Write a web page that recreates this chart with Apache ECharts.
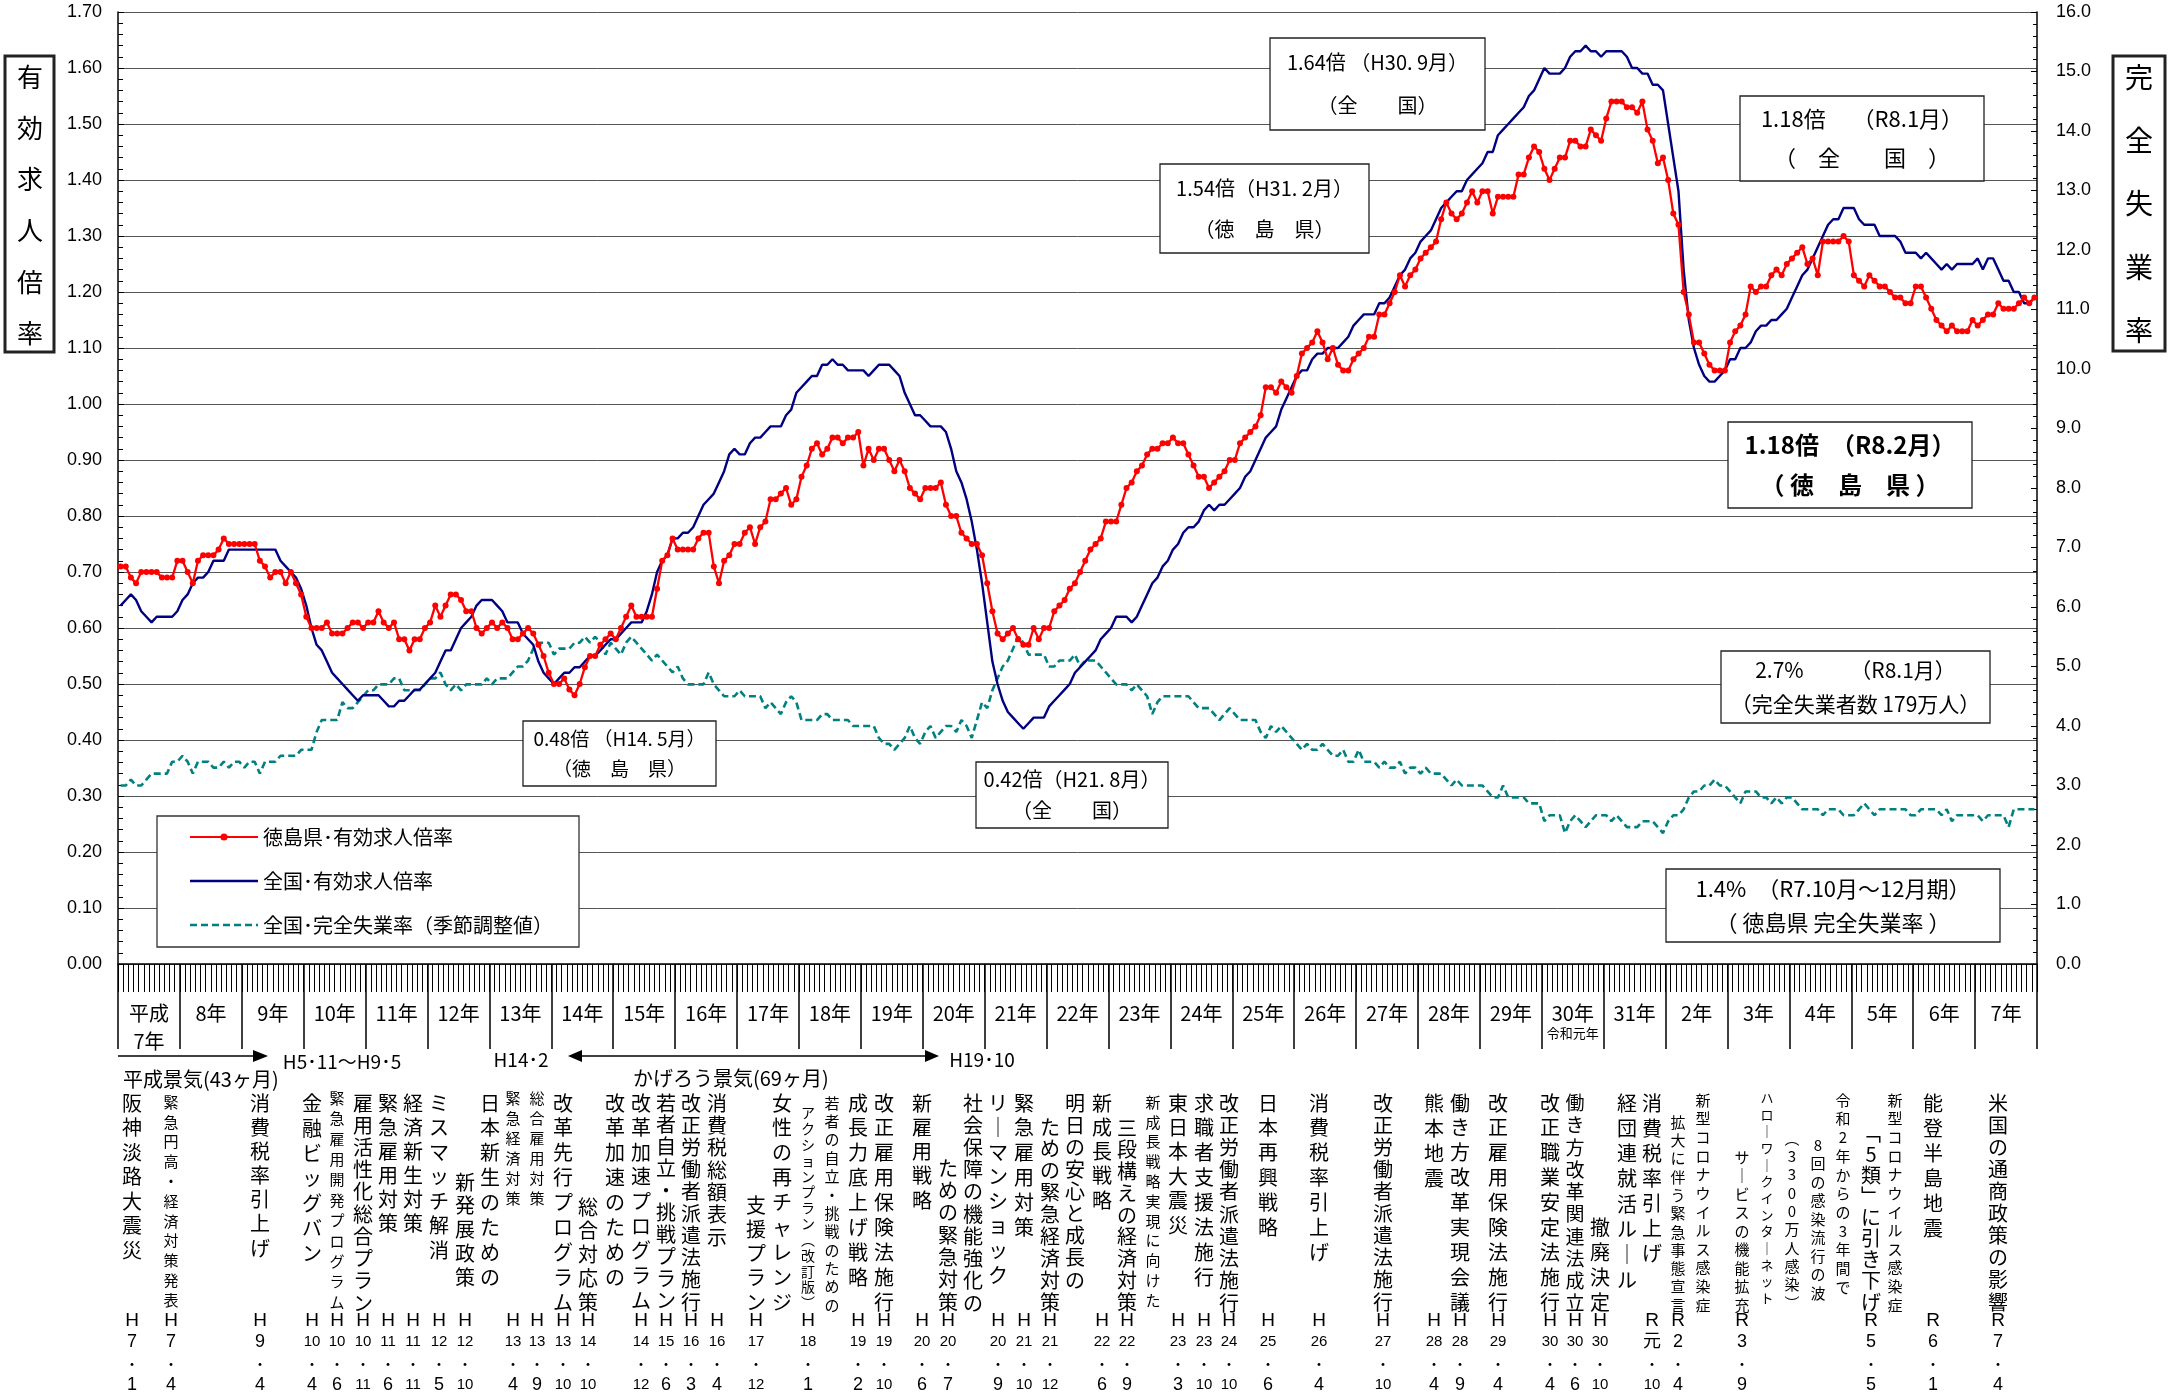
<!DOCTYPE html>
<html>
<head>
<meta charset="utf-8">
<script src="https://cdn.jsdelivr.net/npm/echarts@6/dist/echarts.min.js"></script>
<style>
html,body{margin:0;padding:0;background:#fff}
#main{width:2179px;height:1396px}
</style>
</head>
<body>
<div id="main"></div>
<script>
// 有効求人倍率・完全失業率の推移
var JP = '"Noto Sans CJK JP", "Noto Sans", sans-serif';
var LAT = '"Liberation Sans", Arial, "Noto Sans CJK JP", sans-serif';

// 年（横軸の区切り）
var yearTags = ['H7','H8','H9','H10','H11','H12','H13','H14','H15','H16','H17','H18','H19','H20','H21','H22',
  'H23','H24','H25','H26','H27','H28','H29','H30','H31','R2','R3','R4','R5','R6','R7'];
var yearLabels = ['平成\n7年','8年','9年','10年','11年','12年','13年','14年','15年','16年','17年','18年','19年','20年',
  '21年','22年','23年','24年','25年','26年','27年','28年','29年','30年\n{s|令和元年}','31年','2年','3年','4年','5年','6年','7年'];
var months = [];
yearTags.forEach(function (t) { for (var m = 1; m <= 12; m++) months.push(t + '.' + m); });

// 徳島県・有効求人倍率（1年12か月ずつ）
var tokushima = [
  0.71,0.71,0.69,0.68,0.70,0.70,0.70,0.70,0.69,0.69,0.69,0.72,
  0.72,0.70,0.68,0.72,0.73,0.73,0.73,0.74,0.76,0.75,0.75,0.75,
  0.75,0.75,0.75,0.72,0.71,0.69,0.70,0.70,0.68,0.70,0.68,0.66,
  0.62,0.60,0.60,0.60,0.61,0.59,0.59,0.59,0.60,0.61,0.61,0.60,
  0.61,0.61,0.63,0.61,0.60,0.61,0.58,0.58,0.56,0.58,0.58,0.60,
  0.61,0.64,0.62,0.64,0.66,0.66,0.65,0.63,0.63,0.60,0.59,0.60,
  0.61,0.60,0.61,0.60,0.58,0.58,0.59,0.60,0.59,0.57,0.55,0.52,
  0.50,0.50,0.51,0.49,0.48,0.50,0.53,0.55,0.55,0.57,0.58,0.59,
  0.58,0.60,0.62,0.64,0.62,0.62,0.62,0.62,0.67,0.72,0.73,0.76,
  0.74,0.74,0.74,0.74,0.76,0.77,0.77,0.71,0.68,0.72,0.73,0.75,
  0.75,0.77,0.78,0.75,0.78,0.79,0.83,0.83,0.84,0.85,0.82,0.83,
  0.87,0.89,0.92,0.93,0.91,0.92,0.94,0.94,0.93,0.94,0.94,0.95,
  0.89,0.92,0.90,0.92,0.92,0.90,0.88,0.90,0.88,0.85,0.84,0.83,
  0.85,0.85,0.85,0.86,0.82,0.80,0.80,0.77,0.76,0.75,0.75,0.73,
  0.68,0.63,0.59,0.58,0.59,0.60,0.58,0.57,0.57,0.60,0.58,0.60,
  0.60,0.63,0.64,0.65,0.67,0.68,0.70,0.72,0.74,0.75,0.76,0.79,
  0.79,0.79,0.82,0.85,0.86,0.88,0.89,0.91,0.92,0.92,0.93,0.93,
  0.94,0.93,0.93,0.91,0.89,0.87,0.87,0.85,0.86,0.87,0.88,0.90,
  0.90,0.93,0.94,0.95,0.96,0.98,1.03,1.03,1.02,1.04,1.03,1.02,
  1.05,1.09,1.10,1.11,1.13,1.11,1.08,1.10,1.07,1.06,1.06,1.08,
  1.09,1.10,1.12,1.12,1.16,1.16,1.18,1.20,1.23,1.21,1.23,1.24,
  1.26,1.27,1.28,1.29,1.33,1.36,1.34,1.33,1.34,1.36,1.38,1.36,
  1.38,1.38,1.34,1.37,1.37,1.37,1.37,1.41,1.41,1.44,1.46,1.45,
  1.42,1.40,1.42,1.44,1.44,1.47,1.47,1.46,1.46,1.49,1.48,1.47,
  1.51,1.54,1.54,1.54,1.53,1.53,1.52,1.54,1.49,1.47,1.43,1.44,
  1.40,1.34,1.32,1.20,1.16,1.11,1.11,1.09,1.07,1.06,1.06,1.06,
  1.11,1.13,1.14,1.16,1.21,1.20,1.21,1.21,1.23,1.24,1.23,1.25,
  1.26,1.27,1.28,1.25,1.26,1.23,1.29,1.29,1.29,1.29,1.30,1.29,
  1.23,1.22,1.21,1.23,1.22,1.21,1.21,1.20,1.19,1.19,1.18,1.18,
  1.21,1.21,1.19,1.17,1.15,1.14,1.13,1.14,1.13,1.13,1.13,1.15,
  1.14,1.15,1.16,1.16,1.18,1.17,1.17,1.17,1.18,1.19,1.18,1.19
];

// 全国・有効求人倍率
var national = [
  0.64,0.65,0.66,0.65,0.63,0.62,0.61,0.62,0.62,0.62,0.62,0.63,
  0.65,0.66,0.68,0.69,0.69,0.70,0.72,0.72,0.72,0.74,0.74,0.74,
  0.74,0.74,0.74,0.74,0.74,0.74,0.74,0.72,0.71,0.70,0.69,0.67,
  0.64,0.60,0.57,0.56,0.54,0.52,0.51,0.50,0.49,0.48,0.47,0.48,
  0.48,0.48,0.48,0.47,0.46,0.46,0.47,0.47,0.48,0.49,0.49,0.50,
  0.51,0.52,0.54,0.56,0.56,0.58,0.60,0.61,0.62,0.64,0.65,0.65,
  0.65,0.64,0.63,0.61,0.61,0.61,0.59,0.58,0.57,0.54,0.52,0.51,
  0.50,0.51,0.52,0.52,0.53,0.53,0.54,0.55,0.55,0.56,0.57,0.58,
  0.58,0.59,0.60,0.61,0.61,0.61,0.63,0.66,0.70,0.72,0.73,0.76,
  0.76,0.77,0.77,0.78,0.80,0.82,0.83,0.84,0.86,0.88,0.91,0.92,
  0.91,0.91,0.93,0.94,0.94,0.95,0.96,0.96,0.96,0.98,0.99,1.02,
  1.03,1.04,1.05,1.05,1.07,1.07,1.08,1.07,1.07,1.06,1.06,1.06,
  1.06,1.05,1.06,1.07,1.07,1.07,1.06,1.05,1.02,1.00,0.98,0.98,
  0.97,0.96,0.96,0.96,0.95,0.92,0.88,0.86,0.83,0.79,0.74,0.68,
  0.61,0.54,0.50,0.47,0.45,0.44,0.43,0.42,0.43,0.44,0.44,0.44,
  0.46,0.47,0.48,0.49,0.50,0.52,0.53,0.54,0.55,0.56,0.58,0.59,
  0.60,0.62,0.62,0.62,0.61,0.62,0.64,0.66,0.68,0.69,0.71,0.72,
  0.74,0.75,0.77,0.78,0.78,0.79,0.81,0.82,0.81,0.82,0.82,0.83,
  0.84,0.85,0.87,0.88,0.90,0.92,0.94,0.95,0.96,0.99,1.01,1.03,
  1.05,1.06,1.06,1.08,1.09,1.09,1.10,1.10,1.10,1.11,1.12,1.14,
  1.15,1.16,1.16,1.16,1.18,1.18,1.19,1.21,1.23,1.24,1.26,1.27,
  1.29,1.30,1.31,1.33,1.35,1.36,1.37,1.38,1.38,1.40,1.41,1.42,
  1.43,1.45,1.45,1.48,1.49,1.50,1.51,1.52,1.53,1.55,1.56,1.58,
  1.60,1.59,1.59,1.59,1.60,1.62,1.63,1.63,1.64,1.63,1.63,1.62,
  1.63,1.63,1.63,1.63,1.62,1.60,1.60,1.59,1.59,1.57,1.57,1.56,
  1.50,1.44,1.38,1.24,1.15,1.10,1.07,1.05,1.04,1.04,1.05,1.06,
  1.08,1.08,1.10,1.10,1.11,1.13,1.14,1.14,1.15,1.15,1.16,1.17,
  1.19,1.21,1.23,1.24,1.26,1.28,1.30,1.32,1.33,1.33,1.35,1.35,
  1.35,1.33,1.32,1.32,1.32,1.30,1.30,1.30,1.30,1.29,1.27,1.27,
  1.27,1.26,1.27,1.26,1.25,1.24,1.25,1.24,1.25,1.25,1.25,1.25,
  1.26,1.24,1.26,1.26,1.24,1.22,1.22,1.20,1.20,1.18,1.18,1.19
];

// 全国・完全失業率（季節調整値）％
var unemployment = [
  3.0,3.0,3.1,3.0,3.0,3.1,3.2,3.2,3.2,3.2,3.4,3.4,
  3.5,3.4,3.2,3.4,3.4,3.4,3.3,3.3,3.4,3.3,3.4,3.4,
  3.3,3.4,3.4,3.2,3.4,3.4,3.4,3.5,3.5,3.5,3.5,3.6,
  3.6,3.6,3.9,4.1,4.1,4.1,4.1,4.4,4.3,4.3,4.4,4.5,
  4.6,4.6,4.7,4.7,4.7,4.8,4.8,4.6,4.6,4.6,4.6,4.7,
  4.8,4.8,4.9,4.7,4.6,4.7,4.6,4.7,4.7,4.7,4.7,4.8,
  4.7,4.8,4.8,4.8,4.9,5.0,5.0,5.1,5.3,5.4,5.4,5.4,
  5.2,5.3,5.3,5.3,5.4,5.4,5.5,5.4,5.5,5.4,5.2,5.4,
  5.3,5.2,5.4,5.5,5.4,5.3,5.2,5.1,5.2,5.1,5.0,4.9,
  5.0,4.8,4.7,4.7,4.7,4.7,4.9,4.7,4.6,4.5,4.5,4.5,
  4.6,4.5,4.5,4.5,4.5,4.3,4.4,4.3,4.2,4.4,4.5,4.4,
  4.1,4.1,4.1,4.1,4.2,4.2,4.1,4.1,4.1,4.1,4.0,4.0,
  4.0,4.0,4.0,3.8,3.7,3.7,3.6,3.7,3.8,4.0,3.8,3.7,
  3.9,4.0,3.8,3.9,4.0,4.0,3.9,4.1,4.0,3.8,4.1,4.4,
  4.3,4.6,4.8,5.0,5.1,5.3,5.5,5.4,5.2,5.2,5.2,5.2,
  5.0,5.0,5.1,5.1,5.1,5.2,5.0,5.1,5.1,5.1,5.0,4.9,
  4.8,4.7,4.7,4.7,4.6,4.7,4.6,4.5,4.2,4.4,4.5,4.5,
  4.5,4.5,4.5,4.5,4.4,4.3,4.3,4.3,4.2,4.1,4.2,4.3,
  4.2,4.1,4.1,4.1,4.1,3.9,3.8,4.0,3.9,4.0,3.9,3.8,
  3.7,3.6,3.7,3.6,3.6,3.7,3.6,3.5,3.5,3.6,3.4,3.4,
  3.6,3.4,3.4,3.4,3.3,3.4,3.3,3.3,3.4,3.2,3.3,3.3,
  3.2,3.3,3.2,3.2,3.2,3.1,3.0,3.1,3.0,3.0,3.0,3.0,
  3.0,2.9,2.8,2.8,3.0,2.8,2.8,2.8,2.8,2.7,2.7,2.7,
  2.4,2.5,2.5,2.5,2.2,2.4,2.5,2.4,2.3,2.4,2.5,2.5,
  2.5,2.4,2.5,2.4,2.3,2.3,2.3,2.4,2.4,2.4,2.3,2.2,
  2.4,2.5,2.5,2.6,2.8,2.9,2.9,3.0,3.0,3.1,3.0,3.0,
  2.9,2.8,2.7,2.9,2.9,2.9,2.8,2.8,2.7,2.8,2.7,2.8,
  2.8,2.7,2.6,2.6,2.6,2.6,2.5,2.6,2.6,2.6,2.5,2.5,
  2.5,2.6,2.7,2.6,2.5,2.6,2.6,2.6,2.6,2.6,2.6,2.5,
  2.5,2.6,2.6,2.6,2.6,2.5,2.6,2.4,2.5,2.5,2.5,2.5,
  2.5,2.4,2.5,2.5,2.5,2.5,2.3,2.6,2.6,2.6,2.6,2.6
];

var seriesNames = ['徳島県･有効求人倍率', '全国･有効求人倍率', '全国･完全失業率（季節調整値）'];

// 注記ボックス [x1, y1, x2, y2, 1行目, 2行目, 文字サイズ, 太字]
var callouts = [
  [523, 721, 716, 786, '0.48倍 （H14. 5月）', '（徳　島　県）', 19, false],
  [976, 762, 1168, 828, '0.42倍（H21. 8月）', '（全　　国）', 20, false],
  [1270, 38, 1485, 130, '1.64倍 （H30. 9月）', '（全　　国）', 20, false],
  [1160, 164, 1369, 253, '1.54倍（H31. 2月）', '（徳　島　県）', 20, false],
  [1740, 96, 1984, 181, '1.18倍　 （R8.1月）', '（　全　　国　）', 22, false],
  [1728, 422, 1972, 508, '1.18倍　（R8.2月）', '（ 徳　島　県 ）', 24, true],
  [1721, 651, 1990, 723, '2.7%　　 （R8.1月）', '（完全失業者数 179万人）', 21, false],
  [1666, 869, 2000, 942, '1.4%　（R7.10月～12月期）', '（ 徳島県 完全失業率 ）', 22, false]
];

// 下段の出来事（縦書き） [x, 先頭文字y, 末尾文字y, 文字サイズ, 文]
var noteCols = [
  [132,1103,1250,20,'阪神淡路大震災'],
  [171,1102,1300,15,'緊急円高・経済対策発表'],
  [260,1103,1248,20,'消費税率引上げ'],
  [312,1103,1253,20,'金融ビッグバン'],
  [337,1098,1302,15,'緊急雇用開発プログラム'],
  [363,1103,1303,20,'雇用活性化総合プラン'],
  [388,1103,1223,20,'緊急雇用対策'],
  [413,1103,1223,20,'経済新生対策'],
  [439,1103,1250,20,'ミスマッチ解消'],
  [465,1182,1277,20,'新発展政策'],
  [490,1103,1277,20,'日本新生のための'],
  [513,1098,1198,15,'緊急経済対策'],
  [537,1098,1198,15,'総合雇用対策'],
  [563,1103,1302,20,'改革先行プログラム'],
  [588,1207,1302,20,'総合対応策'],
  [615,1103,1277,20,'改革加速のための'],
  [641,1103,1300,20,'改革加速プログラム'],
  [666,1103,1300,20,'若者自立・挑戦プラン'],
  [691,1103,1302,20,'改正労働者派遣法施行'],
  [717,1103,1237,20,'消費税総額表示'],
  [756,1205,1302,20,'支援プラン'],
  [782,1103,1302,20,'女性の再チャレンジ'],
  [808,1113,1303,14,'アクションプラン（改訂版）'],
  [832,1103,1305,15,'若者の自立・挑戦のための'],
  [858,1103,1277,20,'成長力底上げ戦略'],
  [884,1103,1302,20,'改正雇用保険法施行'],
  [922,1103,1200,20,'新雇用戦略'],
  [948,1168,1302,20,'ための緊急対策'],
  [973,1103,1303,20,'社会保障の機能強化の'],
  [998,1103,1275,20,'リーマンショック'],
  [1024,1103,1227,20,'緊急雇用対策'],
  [1050,1127,1302,20,'ための緊急経済対策'],
  [1075,1103,1280,20,'明日の安心と成長の'],
  [1102,1103,1200,20,'新成長戦略'],
  [1127,1128,1302,20,'三段構えの経済対策'],
  [1153,1102,1300,15,'新成長戦略実現に向けた'],
  [1178,1103,1225,20,'東日本大震災'],
  [1204,1103,1277,20,'求職者支援法施行'],
  [1229,1103,1303,20,'改正労働者派遣法施行'],
  [1268,1103,1227,20,'日本再興戦略'],
  [1319,1103,1252,20,'消費税率引上げ'],
  [1383,1103,1302,20,'改正労働者派遣法施行'],
  [1434,1103,1178,20,'熊本地震'],
  [1460,1103,1302,20,'働き方改革実現会議'],
  [1498,1103,1302,20,'改正雇用保険法施行'],
  [1550,1103,1302,20,'改正職業安定法施行'],
  [1575,1103,1303,19,'働き方改革関連法成立'],
  [1600,1227,1302,20,'撤廃決定'],
  [1627,1103,1280,20,'経団連就活ルール'],
  [1652,1103,1253,20,'消費税率引上げ'],
  [1678,1122,1305,15,'拡大に伴う緊急事態宣言'],
  [1703,1100,1305,15,'新型コロナウイルス感染症'],
  [1742,1157,1305,15,'サービスの機能拡充'],
  [1767,1098,1298,13,'ハローワークインターネット'],
  [1792,1138,1303,15,'（3300万人感染）'],
  [1818,1145,1293,15,'8回の感染流行の波'],
  [1843,1100,1287,15,'令和2年からの3年間で'],
  [1871,1133,1302,20,'「5類」に引き下げ'],
  [1895,1100,1305,15,'新型コロナウイルス感染症'],
  [1933,1103,1228,20,'能登半島地震'],
  [1998,1103,1302,20,'米国の通商政策の影響']
];

// 出来事の年月 [x, 元号, 年, 月]
var noteDates = [
  [132,'H','7','1'],[171,'H','7','4'],[260,'H','9','4'],[312,'H','10','4'],[337,'H','10','6'],
  [363,'H','10','11'],[388,'H','11','6'],[413,'H','11','11'],[439,'H','12','5'],[465,'H','12','10'],
  [513,'H','13','4'],[537,'H','13','9'],[563,'H','13','10'],[588,'H','14','10'],[641,'H','14','12'],
  [666,'H','15','6'],[691,'H','16','3'],[717,'H','16','4'],[756,'H','17','12'],[808,'H','18','1'],
  [858,'H','19','2'],[884,'H','19','10'],[922,'H','20','6'],[948,'H','20','7'],[998,'H','20','9'],
  [1024,'H','21','10'],[1050,'H','21','12'],[1102,'H','22','6'],[1127,'H','22','9'],[1178,'H','23','3'],
  [1204,'H','23','10'],[1229,'H','24','10'],[1268,'H','25','6'],[1319,'H','26','4'],[1383,'H','27','10'],
  [1434,'H','28','4'],[1460,'H','28','9'],[1498,'H','29','4'],[1550,'H','30','4'],[1575,'H','30','6'],
  [1600,'H','30','10'],[1652,'R','元','10'],[1678,'R','2','4'],[1742,'R','3','9'],[1871,'R','5','5'],
  [1933,'R','6','1'],[1998,'R','7','4']
];

(function () {
  var myChart = echarts.init(document.getElementById('main'));

  var vmap = {'ー': '｜', '（': '︵', '）': '︶', '「': '﹁', '」': '﹂'};
  function vert(s) {
    return Array.from(s).map(function (c) { return vmap[c] || c; }).join('\n');
  }
  function txt(x, y, text, size, extra) {
    var st = {text: text, fontSize: size, fontFamily: JP, fill: '#000', align: 'center', verticalAlign: 'middle'};
    for (var k in extra) st[k] = extra[k];
    return {type: 'text', x: x, y: y, z: 11, style: st};
  }
  function rect(x1, y1, x2, y2, lw) {
    return {type: 'rect', z: 10, shape: {x: x1, y: y1, width: x2 - x1, height: y2 - y1},
      style: {fill: '#fff', stroke: '#222', lineWidth: lw}};
  }

  var g = [];
  // 縦の軸タイトル
  g.push(rect(5, 56, 54, 352, 3));
  g.push(txt(30, 51.4, vert('有効求人倍率'), 26, {verticalAlign: 'top', lineHeight: 51.2}));
  g.push(rect(2113, 56, 2165, 351, 3));
  g.push(txt(2139, 45.4, vert('完全失業率'), 28, {verticalAlign: 'top', lineHeight: 63.3}));

  // 注記
  callouts.forEach(function (c) {
    g.push(rect(c[0], c[1], c[2], c[3], 1.3));
    var lh = (c[3] - c[1]) * 0.46;
    g.push(txt((c[0] + c[2]) / 2, (c[1] + c[3]) / 2, c[4] + '\n' + c[5], c[6],
      {lineHeight: lh, fontWeight: c[7] ? 'bold' : 'normal'}));
  });

  // 景気の矢印
  var ln = {stroke: '#000', lineWidth: 1.5};
  g.push({type: 'line', z: 10, shape: {x1: 118, y1: 1056, x2: 254, y2: 1056}, style: ln});
  g.push({type: 'polygon', z: 10, shape: {points: [[253, 1050], [268, 1056], [253, 1062]]}, style: {fill: '#000'}});
  g.push({type: 'line', z: 10, shape: {x1: 581, y1: 1056, x2: 926, y2: 1056}, style: ln});
  g.push({type: 'polygon', z: 10, shape: {points: [[582, 1050], [568, 1056], [582, 1062]]}, style: {fill: '#000'}});
  g.push({type: 'polygon', z: 10, shape: {points: [[925, 1050], [939, 1056], [925, 1062]]}, style: {fill: '#000'}});
  g.push(txt(342, 1062, 'H5･11～H9･5', 19));
  g.push(txt(123, 1079, '平成景気(43ヶ月)', 20, {align: 'left'}));
  g.push(txt(521, 1060, 'H14･2', 19));
  g.push(txt(982, 1060, 'H19･10', 19));
  g.push(txt(633, 1078, 'かげろう景気(69ヶ月)', 20, {align: 'left'}));

  // 出来事（縦書き）
  noteCols.forEach(function (c) {
    var n = Array.from(c[4]).length;
    var sp = (c[2] - c[1]) / (n - 1);
    g.push(txt(c[0], c[1] - sp / 2, vert(c[4]), c[3], {verticalAlign: 'top', lineHeight: sp}));
  });
  noteDates.forEach(function (d) {
    function seg(s) { return /^\d\d$/.test(s) ? '{m|' + s + '}' : '{n|' + s + '}'; }
    g.push({type: 'text', x: d[0], y: 1310.4, z: 11, style: {
      text: '{h|' + d[1] + '}\n' + seg(d[2]) + '\n{d|・}\n' + seg(d[3]),
      align: 'center', verticalAlign: 'top', fill: '#000', fontFamily: LAT,
      rich: {
        h: {fontSize: 19, lineHeight: 21.3, fontFamily: LAT},
        n: {fontSize: 18, lineHeight: 21.3, fontFamily: LAT},
        m: {fontSize: 15, lineHeight: 21.3, fontFamily: LAT},
        d: {fontSize: 14, lineHeight: 21.3, fontFamily: JP}
      }
    }});
  });

  // 凡例アイコン（実線・破線）
  var solidIcon = 'path://M0,0M68,9M0,3.3L68,3.3L68,5.7L0,5.7Z';
  var dashIcon = 'path://M0,0M68,9';
  for (var dx = 0; dx < 68; dx += 11) {
    var ex = Math.min(dx + 7, 68);
    dashIcon += 'M' + dx + ',3.2L' + ex + ',3.2L' + ex + ',5.8L' + dx + ',5.8Z';
  }

  var option = {
    animation: false,
    backgroundColor: '#fff',
    textStyle: {fontFamily: JP},
    grid: {left: 118, right: 142, top: 12, bottom: 432, containLabel: false, outerBoundsMode: 'none'},
    legend: {
      orient: 'vertical', left: 157, top: 816,
      data: [
        {name: seriesNames[0]},
        {name: seriesNames[1], icon: solidIcon},
        {name: seriesNames[2], icon: dashIcon}
      ],
      itemWidth: 68, itemHeight: 9, itemGap: 24,
      padding: [11, 26, 12, 32],
      backgroundColor: '#fff', borderColor: '#333', borderWidth: 1.3,
      textStyle: {fontSize: 20, color: '#000', fontFamily: JP}
    },
    xAxis: [
      {
        type: 'category', data: months, boundaryGap: true, position: 'bottom',
        axisLine: {show: true, lineStyle: {color: '#000', width: 1.5}},
        axisTick: {show: true, interval: 0, length: 28, lineStyle: {color: '#000', width: 1}},
        axisLabel: {show: false},
        splitLine: {show: false}
      },
      {
        type: 'category', data: months, boundaryGap: true, position: 'bottom',
        axisLine: {show: false},
        axisTick: {show: true, length: 85, lineStyle: {color: '#000', width: 1.5},
          interval: function (i) { return i % 12 === 0; }},
        axisLabel: {
          show: true, margin: 35, fontSize: 20, lineHeight: 28, color: '#000', fontFamily: JP,
          padding: [0, 5, 0, 0],
          interval: function (i) { return i % 12 === 6; },
          formatter: function (v, i) { return yearLabels[Math.floor(i / 12)]; },
          rich: {s: {fontSize: 13, lineHeight: 12, color: '#000', fontFamily: JP}}
        },
        splitLine: {show: false}
      }
    ],
    yAxis: [
      {
        type: 'value', min: 0, max: 1.7, interval: 0.1, position: 'left',
        axisLine: {show: true, lineStyle: {color: '#000', width: 1.5}},
        axisTick: {show: true, inside: true, length: 6, lineStyle: {color: '#000'}},
        minorTick: {show: true, splitNumber: 5, length: 5, lineStyle: {color: '#000'}},
        axisLabel: {fontSize: 18, color: '#000', margin: 16, fontFamily: LAT,
          formatter: function (v) { return v.toFixed(2); }},
        splitLine: {show: true, lineStyle: {color: '#555', width: 1}}
      },
      {
        type: 'value', min: 0, max: 16, interval: 1, position: 'right',
        axisLine: {show: true, lineStyle: {color: '#000', width: 1.5}},
        axisTick: {show: true, inside: true, length: 6, lineStyle: {color: '#000'}},
        minorTick: {show: true, splitNumber: 5, length: 4, lineStyle: {color: '#000'}},
        axisLabel: {fontSize: 18, color: '#000', margin: 19, fontFamily: LAT,
          formatter: function (v) { return v.toFixed(1); }},
        splitLine: {show: false}
      }
    ],
    series: [
      {
        name: seriesNames[2], type: 'line', xAxisIndex: 0, yAxisIndex: 1, data: unemployment,
        symbol: 'none', z: 2,
        itemStyle: {color: '#008080'},
        lineStyle: {color: '#008080', width: 2.6, type: [7, 4]}
      },
      {
        name: seriesNames[1], type: 'line', xAxisIndex: 0, yAxisIndex: 0, data: national,
        symbol: 'none', z: 3,
        itemStyle: {color: '#000080'},
        lineStyle: {color: '#000080', width: 2.4}
      },
      {
        name: seriesNames[0], type: 'line', xAxisIndex: 0, yAxisIndex: 0, data: tokushima,
        symbol: 'circle', symbolSize: 6, showAllSymbol: true, z: 4,
        itemStyle: {color: '#ff0000', borderWidth: 0},
        lineStyle: {color: '#ff0000', width: 2.3}
      }
    ],
    graphic: {elements: g}
  };
  myChart.setOption(option);
  window.addEventListener('resize', function () { myChart.resize(); });
})();
</script>
</body>
</html>
